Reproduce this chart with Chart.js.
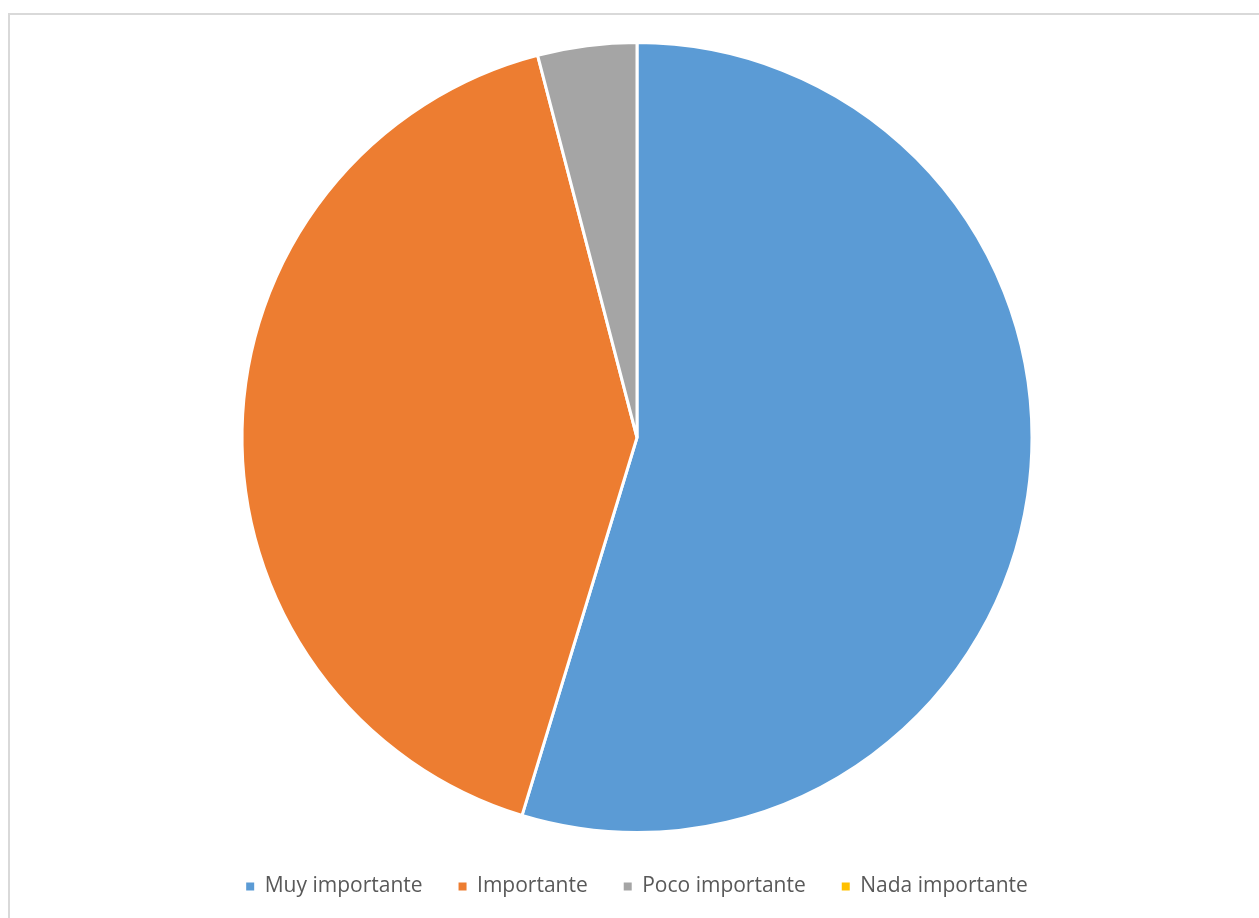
<!DOCTYPE html>
<html>
<head>
<meta charset="utf-8">
<script src="https://cdn.jsdelivr.net/npm/chart.js@4/dist/chart.umd.min.js"></script>
<style>
  html, body { margin: 0; padding: 0; background: #fff; overflow: hidden; }
  #frame {
    position: absolute; left: 8px; top: 13px;
    width: 1262px; height: 920px;
    border: 2px solid #d9d9d9; box-sizing: border-box;
  }
  #wrap { position: absolute; left: 10px; top: 15px; width: 1254px; height: 903px; }
</style>
</head>
<body>
<div id="frame"></div>
<div id="wrap"><canvas id="pieChart"></canvas></div>
<script>
const categories = ['Muy importante', 'Importante', 'Poco importante', 'Nada importante'];
const values = [54.7, 41.25, 4.05, 0];
const colors = ['#5B9BD5', '#ED7D31', '#A5A5A5', '#FFC000'];

function initializeChart() {
    const ctx = document.getElementById('pieChart').getContext('2d');

    window.pieChart = new Chart(ctx, {
        type: 'pie',
        data: {
            labels: categories,
            datasets: [{
                data: values,
                backgroundColor: colors,
                borderColor: '#ffffff',
                borderWidth: 3,
                radius: 395
            }]
        },
        options: {
            responsive: true,
            maintainAspectRatio: false,
            animation: false,
            layout: {
                padding: { top: 20, bottom: 11 }
            },
            plugins: {
                legend: {
                    position: 'bottom',
                    labels: {
                        boxWidth: 8,
                        boxHeight: 8,
                        padding: 36,
                        color: '#595959',
                        font: { family: 'Open Sans', size: 21 },
                        generateLabels: function(chart) {
                            return categories.map((c, i) => ({
                                text: c,
                                fillStyle: colors[i],
                                strokeStyle: colors[i],
                                lineWidth: 0,
                                fontColor: '#595959',
                                hidden: false,
                                index: i
                            }));
                        }
                    }
                },
                tooltip: { enabled: false }
            }
        }
    });
}

document.addEventListener('DOMContentLoaded', function() {
    initializeChart();
});
</script>
</body>
</html>
